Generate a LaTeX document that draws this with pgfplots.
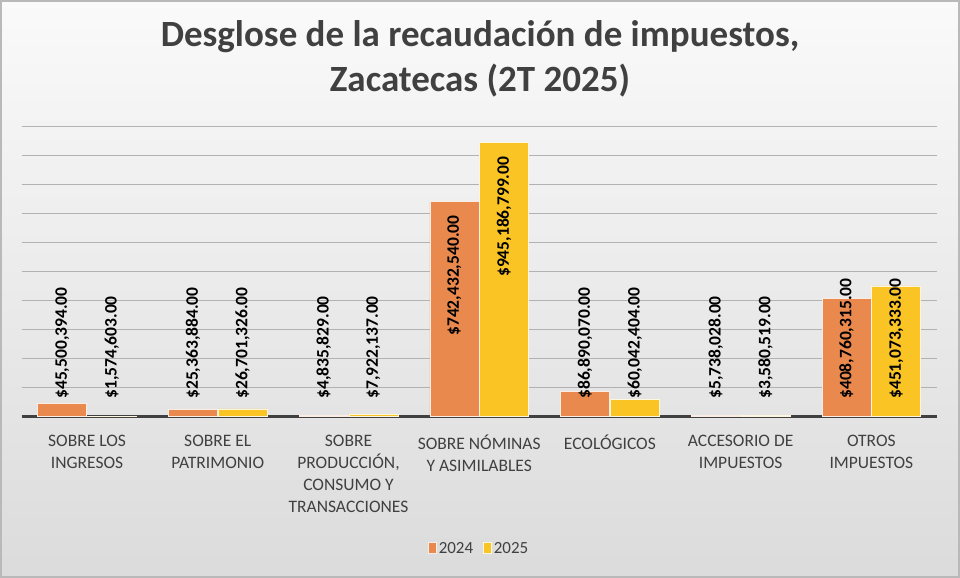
\documentclass[border=0pt]{standalone}
\usepackage{pgfplots}
\usepackage{pgfplotstable}
\pgfplotsset{compat=1.18}
\usepackage{fontspec}
\setmainfont{Carlito}
\definecolor{c2024}{RGB}{234,137,77}
\definecolor{c2025}{RGB}{250,196,37}
\definecolor{txt}{RGB}{64,64,64}
\pgfplotstableread[col sep=semicolon, row sep=\\]{
x;y;lab\\
-0.19;58;{\$45,500,394.00}\\
0.19;58;{\$1,574,603.00}\\
0.81;58;{\$25,363,884.00}\\
1.19;58;{\$26,701,326.00}\\
1.81;58;{\$4,835,829.00}\\
2.19;58;{\$7,922,137.00}\\
2.81;275;{\$742,432,540.00}\\
3.19;478;{\$945,186,799.00}\\
3.81;58;{\$86,890,070.00}\\
4.19;58;{\$60,042,404.00}\\
4.81;58;{\$5,738,028.00}\\
5.19;58;{\$3,580,519.00}\\
5.81;58;{\$408,760,315.00}\\
6.19;58;{\$451,073,333.00}\\
}\labtab
\begin{document}
\begin{tikzpicture}[x=1bp,y=1bp]
\useasboundingbox (0,0) rectangle (960,578);
\shade[top color=white!96!gray, bottom color=gray!28] (0,0) rectangle (960,578);
\draw[gray!55, line width=2bp] (1,1) rectangle (959,577);
\node[font=\fontsize{37bp}{45bp}\selectfont\bfseries, text=txt, align=center, anchor=base] at (480,486) {Desglose de la recaudación de impuestos,\\Zacatecas (2T 2025)};
\begin{axis}[
  at={(21.7bp,161.3bp)}, anchor=south west,
  scale only axis, width=915bp, height=290bp,
  xmin=-0.5, xmax=6.5, ymin=0, ymax=1000,
  axis y line=left, axis x line=bottom,
  y axis line style={draw=none},
  x axis line style={draw=black!75, line width=2.5bp, -},
  ytick distance=100, ymajorgrids,
  grid style={draw=gray!60, line width=1.2bp},
  yticklabels={}, ytick style={draw=none},
  xtick={0,...,6}, major tick length=0,
  xticklabels={{SOBRE LOS\\INGRESOS}, {SOBRE EL\\PATRIMONIO}, {SOBRE\\PRODUCCIÓN,\\CONSUMO Y\\TRANSACCIONES}, {SOBRE NÓMINAS\\Y ASIMILABLES}, {ECOLÓGICOS}, {ACCESORIO DE\\IMPUESTOS}, {OTROS\\IMPUESTOS}},
  xticklabel style={align=center, font=\fontsize{17.5bp}{22bp}\selectfont, text=txt, yshift=-15bp},
  ybar, bar width=0.375,
  legend style={at={(0.5,-0.49)}, anchor=south, draw=none, fill=none, legend columns=2, font=\fontsize{17bp}{20bp}\selectfont, text=txt, /tikz/every even column/.append style={column sep=8bp}},
  legend image code/.code={\fill[#1] (0bp,-5bp) rectangle (8bp,6bp);},
  clip=false,
]
\addplot[fill=c2024, draw=white!85!c2024, line width=0.6bp, bar shift=-0.19] coordinates {(0,45.500394) (1,25.363884) (2,4.835829) (3,742.43254) (4,86.89007) (5,5.738028) (6,408.760315)};
\addplot[fill=c2025, draw=white!85!c2025, line width=0.6bp, bar shift=0.19] coordinates {(0,1.574603) (1,26.701326) (2,7.922137) (3,945.186799) (4,60.042404) (5,3.580519) (6,451.073333)};
\legend{2024,2025}
\addplot[draw=none, fill=none, mark=none, forget plot, bar shift=0, bar width=0, point meta=explicit symbolic,
  nodes near coords,
  every node near coord/.append style={rotate=90, anchor=west, font=\fontsize{17.5bp}{20bp}\selectfont\bfseries, text=black, inner sep=1bp}]
  table[x=x, y=y, meta=lab] {\labtab};
\end{axis}
\end{tikzpicture}
\end{document}
